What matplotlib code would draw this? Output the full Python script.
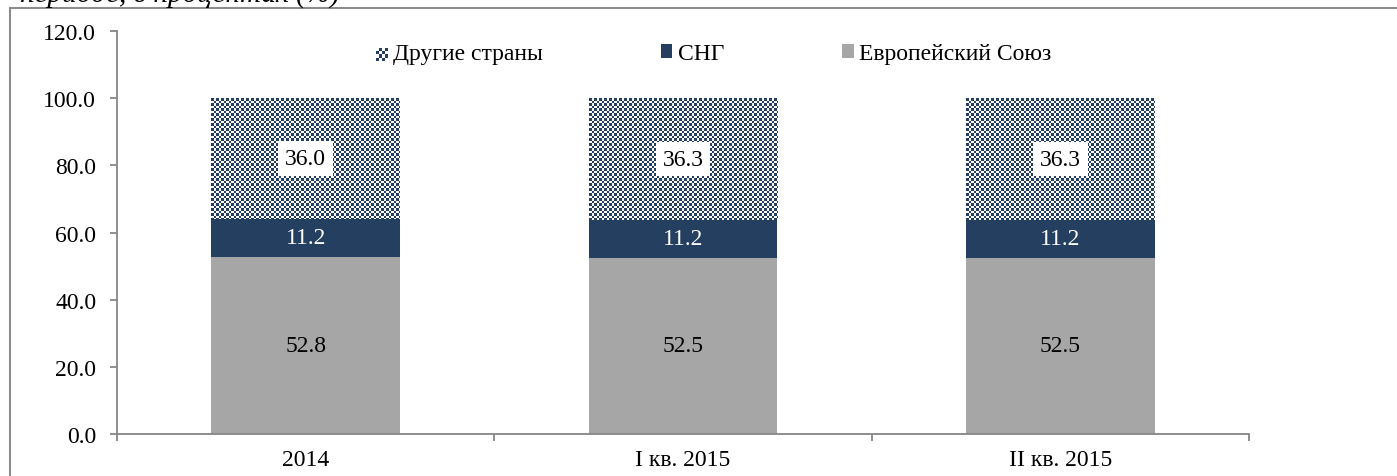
import numpy as np
import matplotlib
matplotlib.use('Agg')
import matplotlib.pyplot as plt
from matplotlib.patches import Rectangle, Patch
from matplotlib.colors import ListedColormap

plt.rcParams['font.family'] = ['Liberation Serif', 'DejaVu Serif']

categories = ['2014', 'I кв. 2015', 'II кв. 2015']
eu = [52.8, 52.5, 52.5]
cis = [11.2, 11.2, 11.2]
other = [36.0, 36.3, 36.3]
series_names = ['Другие страны', 'СНГ', 'Европейский Союз']
caption = 'периоде, в процентах (%)'

NAVY = '#243f60'
GRAY = '#a6a6a6'
AXIS_GRAY = '#868686'
FS = 17


class CheckerHandler:
    # small checkerboard square for the legend
    def legend_artist(self, legend, orig_handle, fontsize, handlebox):
        x0, y0 = handlebox.xdescent, handlebox.ydescent
        w, h = handlebox.width, handlebox.height
        tr = handlebox.get_transform()
        bg = Rectangle((x0, y0), w, h, facecolor='white', edgecolor='none', transform=tr)
        handlebox.add_artist(bg)
        n = 4
        for i in range(n):
            for j in range(n):
                if (i + j) % 2 == 0:
                    handlebox.add_artist(Rectangle((x0 + i * w / n, y0 + j * h / n), w / n, h / n,
                                                   facecolor=NAVY, edgecolor='none', transform=tr))
        return bg


fig = plt.figure(figsize=(13.97, 4.77), dpi=100)
ax = fig.add_axes([117 / 1397, 1 - 435 / 477, (1249 - 117) / 1397, (435 - 32) / 477])

x = np.arange(len(categories))
b_eu = ax.bar(x, eu, width=0.5, color=GRAY, zorder=2)
bottom2 = np.array(eu)
b_cis = ax.bar(x, cis, width=0.5, bottom=bottom2, color=NAVY, zorder=2)
bottom3 = bottom2 + np.array(cis)
b_oth = ax.bar(x, other, width=0.5, bottom=bottom3, color='white', zorder=2)

ax.set_xlim(-0.5, 2.5)
ax.set_ylim(0, 120)
ax.set_yticks(np.arange(0, 121, 20))
ax.yaxis.set_major_formatter('{x:.1f}')

# checkerboard texture on the top segment (3px / 2px cells, like the Office pattern)
cmap = ListedColormap(['white', NAVY])
for p in b_oth.patches:
    x0, y0, w, h = p.get_x(), p.get_y(), p.get_width(), p.get_height()
    (px0, py0), (px1, py1) = ax.transData.transform([(x0, y0), (x0 + w, y0 + h)])
    nx, ny = int(round(px1 - px0)), int(round(py1 - py0))
    ii, jj = np.meshgrid(np.arange(nx), np.arange(ny))
    arr = (((ii % 5) < 3) == ((jj % 5) < 3)).astype(float)
    ax.imshow(arr, extent=(x0, x0 + w, y0, y0 + h), cmap=cmap, interpolation='nearest',
              aspect='auto', zorder=2.5, vmin=0, vmax=1)
ax.set_xlim(-0.5, 2.5)
ax.set_ylim(0, 120)

ax.bar_label(b_eu, fmt='%.1f', label_type='center', fontsize=FS, color='black', zorder=4)
ax.bar_label(b_cis, fmt='%.1f', label_type='center', fontsize=FS, color='white', zorder=4)
labs = ax.bar_label(b_oth, fmt='%.1f', label_type='center', fontsize=FS, color='black',
                    bbox=dict(facecolor='white', edgecolor='none', pad=5))
for t in labs:
    t.set_zorder(4)

# axes styling
for s in ['top', 'right']:
    ax.spines[s].set_visible(False)
for s in ['left', 'bottom']:
    ax.spines[s].set_color(AXIS_GRAY)
    ax.spines[s].set_linewidth(1.3)
ax.tick_params(axis='y', direction='out', length=5, width=1.3, color=AXIS_GRAY, labelsize=FS, pad=10)
ax.set_xticks([-0.5, 0.5, 1.5, 2.5])
ax.set_xticklabels([])
ax.tick_params(axis='x', which='major', direction='out', length=5, width=1.3, color=AXIS_GRAY)
ax.set_xticks(x, minor=True)
ax.set_xticklabels(categories, minor=True)
ax.tick_params(axis='x', which='minor', length=0, labelsize=FS, pad=11)

handles = [Patch(label=series_names[0]),
           Patch(facecolor=NAVY, label=series_names[1]),
           Patch(facecolor=GRAY, label=series_names[2])]
ax.legend(handles=handles, handler_map={handles[0]: CheckerHandler()}, loc='center',
          bbox_to_anchor=(0.527, 0.943), ncol=3, frameon=False, fontsize=FS,
          handlelength=0.5, handleheight=0.5, handletextpad=0.22, columnspacing=5.0)

# outer frame and clipped caption (the reference is cropped through this line)
fig.add_artist(Rectangle((10 / 1397, -0.5), 2, 0.5 + 1 - 9 / 477, transform=fig.transFigure,
                         facecolor='none', edgecolor='#8c8c8c', linewidth=1.5))
fig.text(20 / 1397, 1 - 3 / 477, caption, fontsize=21, style='italic', va='baseline', ha='left')

fig.savefig('out.png', dpi=100)
